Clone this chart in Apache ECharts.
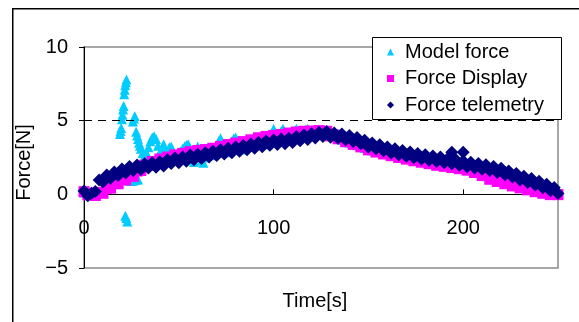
<!DOCTYPE html>
<html>
<head>
<meta charset="utf-8">
<script src="https://cdn.jsdelivr.net/npm/echarts@6/dist/echarts.min.js"></script>
<style>
  html, body { margin: 0; padding: 0; background: #fff; }
  #chart { width: 579px; height: 322px; }
</style>
</head>
<body>
<div id="chart"></div>
<script>
// Sample times [s] for the display and telemetry logs (2 s step)
const sampleTimes = [
  0,2,4,6,8,10,12,14,16,18,20,22,24,26,28,30,32,34,36,38,40,42,44,46,48,50,
  52,54,56,58,60,62,64,66,68,70,72,74,76,78,80,82,84,86,88,90,92,94,96,98,100,
  102,104,106,108,110,112,114,116,118,120,122,124,126,128,130,132,134,136,138,140,
  142,144,146,148,150,152,154,156,158,160,162,164,166,168,170,172,174,176,178,180,
  182,184,186,188,190,192,194,196,198,200,202,204,206,208,210,212,214,216,218,220,
  222,224,226,228,230,232,234,236,238,240,242,244,246,248,250
];

// Force Display [N]
const forceDisplay = [
  0.18,-0.03,0.08,-0.08,0.13,0.07,0.43,0.42,0.73,0.72,1.03,0.97,1.23,1.22,1.58,1.62,
  1.98,1.97,2.23,2.17,2.4,2.3,2.53,2.44,2.68,2.57,2.78,2.67,2.9,2.78,2.98,2.85,3.04,
  2.92,3.13,3.02,3.25,3.16,3.38,3.27,3.48,3.37,3.58,3.47,3.7,3.62,3.84,3.72,3.93,3.8,
  4.0,3.87,4.06,3.95,4.16,4.04,4.23,4.09,4.28,4.13,4.3,4.16,4.33,4.17,4.28,3.97,4.03,
  3.77,3.83,3.57,3.64,3.39,3.46,3.22,3.28,3.02,3.1,2.87,2.96,2.74,2.84,2.62,2.72,2.5,
  2.6,2.39,2.5,2.28,2.39,2.18,2.29,2.08,2.18,1.97,2.09,1.9,2.02,1.82,1.94,1.74,1.85,
  1.64,1.73,1.48,1.54,1.28,1.3,1.02,1.1,0.87,0.96,0.72,0.8,0.57,0.66,0.44,0.53,0.3,
  0.4,0.18,0.28,0.07,0.18,-0.02,0.09,-0.02
];

// Force telemetry [N]
const forceTelemetry = [
  0.22,-0.1,0.07,0.2,0.97,0.83,1.32,1.1,1.52,1.28,1.72,1.45,1.89,1.61,1.99,1.69,2.07,
  1.78,2.15,1.83,2.22,1.93,2.35,2.1,2.47,2.15,2.53,2.25,2.67,2.35,2.72,2.43,2.82,2.53,
  2.92,2.63,3.02,2.73,3.12,2.83,3.22,2.93,3.32,3.03,3.42,3.13,3.52,3.23,3.62,3.33,3.69,
  3.38,3.75,3.43,3.8,3.51,3.92,3.63,4.02,3.73,4.12,3.83,4.22,3.93,4.27,3.88,4.17,3.81,
  4.1,3.71,3.99,3.58,3.85,3.43,3.67,3.21,3.49,3.09,3.37,2.95,3.22,2.81,3.09,2.69,2.97,
  2.58,2.87,2.48,2.77,2.39,2.69,2.31,2.61,2.23,2.53,2.15,2.45,2.07,2.37,1.98,2.27,1.88,
  2.17,1.79,2.09,1.71,2.01,1.61,1.89,1.49,1.77,1.33,1.59,1.17,1.41,0.98,1.23,0.81,1.07,
  0.63,0.89,0.45,0.69,0.25,0.47,0.05
];

// Isolated telemetry samples above the main trace [t, N]
const telemetryOutliers = [[194, 2.85], [200, 2.85]];

// Model force [t, N]
const modelForce = [
  [0,0.12],[2,0.02],[4,0.05],[6,-0.02],[8,0.1],[10,0.15],[12,0.4],[14,0.48],[16,0.7],[18,0.78],
  [19.0,4.1],[19.3,4.3],[19.6,4.5],[20.0,5.1],[20.3,5.4],[20.6,5.75],[20.9,6.0],[21.2,6.8],
  [21.5,7.1],[21.8,7.4],[22.1,7.6],[22.4,7.8],
  [21.8,-1.45],[22.3,-1.6],[22.8,-1.85],
  [23.5,0.95],[24.5,0.9],[25.5,0.92],[26.5,0.95],[27.5,1.0],[28.5,1.0],
  [25.8,4.95],[26.3,5.15],[26.8,5.3],
  [27.5,4.25],[28,4.0],[28.5,3.75],[29,3.5],[29.5,3.3],
  [30,3.1],[31,2.8],[32,2.6],[33,2.8],[34,3.2],[35,3.6],[36,3.85],[37,3.95],[38,3.75],[39,3.3],
  [40,2.8],[41,3.1],[42,3.4],[43,3.0],[44,2.8],[45,3.2],[46,3.25],[47,2.9],[48,2.5],[49,2.35],
  [50,2.6],[51,2.9],[52,3.1],[53,3.25],[54,3.35],[55,3.4],[56,3.1],[57,2.45],[58,2.2],[59,2.6],
  [60,3.25],[61,2.85],[62,2.3],[63,2.15],[64,2.5],[65,3.15],[66,2.95],[67,2.7],[68,2.65],[69,2.9],
  [70,3.25],[71,3.6],[72,3.8],[73,3.5],[74,3.1],[75,2.85],[76,2.95],[77,3.2],[78,3.6],[79,3.8],
  [80,3.85],[81,3.6],[82,3.2],[83,3.05],[84,3.15],[85,3.3],[86,3.45],[87,3.6],[88,3.7],[89,3.75],
  [90,3.5],[91,3.35],[92,3.5],[93,3.75],[94,3.95],[95,3.8],[96,3.5],[97,3.4],[98,3.75],[99,4.15],
  [100,4.45],[101,4.2],[102,3.8],[103,3.95],[104,4.3],[105,4.45],[106,4.2],[107,3.9],[108,3.8],[109,3.9],
  [110,4.05],[111,4.3],[112,4.45],[113,4.3],[114,4.0],[115,3.9],[116,4.15],[117,4.4],[118,4.45],[119,4.3],
  [120,4.1],[121,4.05],[122,4.1],[123,4.2],[124,4.3],[125,4.3],[126,4.25],
  [128,4.15],[130,4.0],[132,3.9],[134,3.8],[136,3.7],[138,3.6],[140,3.5],[142,3.42],[144,3.33],
  [146,3.25],[148,3.15],[150,3.06],[152,2.98],[154,2.91],[156,2.85],[158,2.79],[160,2.73],
  [162,2.67],[164,2.61],[166,2.55],[168,2.5],[170,2.45],[172,2.4],[174,2.34],[176,2.29],
  [178,2.24],[180,2.19],[182,2.14],[184,2.09],[186,2.04],[188,2.0],[190,1.97],[192,1.93],
  [194,1.89],[196,1.85],[198,1.81],[200,1.76],[202,1.71],[204,1.64],[206,1.55],[208,1.45],
  [210,1.35],[212,1.22],[214,1.1],[216,1.02],[218,0.95],[220,0.88],[222,0.8],[224,0.72],
  [226,0.65],[228,0.58],[230,0.52],[232,0.45],[234,0.38],[236,0.32],[238,0.26],[240,0.2],
  [242,0.15],[244,0.1],[246,0.06],[248,0.03],[250,0.0]
];

const seriesNames = ['Model force', 'Force Display', 'Force telemetry'];
const referenceLevel = 5;

const pairs = (times, values) => times.map((t, i) => [t, values[i]]);

const FONT = '"Liberation Sans", Arial, sans-serif';
const FS = 20;
const chart = echarts.init(document.getElementById('chart'), null, { renderer: 'canvas' });

chart.setOption({
  animation: false,
  backgroundColor: '#fff',
  textStyle: { fontFamily: FONT, color: '#000' },
  grid: {
    left: 84, top: 47, width: 474, height: 221,
    outerBoundsMode: 'none', containLabel: false,
    show: true, borderColor: '#8a8a8a', borderWidth: 1.5, backgroundColor: '#fff'
  },
  xAxis: {
    type: 'value', min: 0, max: 250, interval: 100,
    axisLine: { onZero: true, lineStyle: { color: '#000', width: 1 } },
    axisTick: { inside: true, length: 5, lineStyle: { color: '#000' } },
    axisLabel: { margin: -50, fontSize: FS, color: '#000', fontFamily: FONT, showMaxLabel: false },
    splitLine: { show: false },
    name: 'Time[s]', nameLocation: 'middle', nameGap: 23,
    nameTextStyle: { fontSize: FS, color: '#000', fontFamily: FONT, padding: [0, 12, 0, 0] }
  },
  yAxis: {
    type: 'value', min: -5, max: 10, interval: 5,
    axisLine: { show: true, lineStyle: { color: '#000', width: 1 } },
    axisTick: { show: true, inside: false, length: 5, lineStyle: { color: '#000' } },
    axisLabel: {
      margin: 16, fontSize: FS, color: '#000', fontFamily: FONT,
      formatter: v => String(v).replace('-', '\u2212')
    },
    splitLine: { show: false },
    name: 'Force[N]', nameLocation: 'middle', nameGap: 46,
    nameTextStyle: { fontSize: FS, color: '#000', fontFamily: FONT, padding: [0, 10, 0, 0] }
  },
  legend: {
    orient: 'vertical', left: 387, top: 42, padding: 0, z: 20,
    itemWidth: 7, itemHeight: 7, itemGap: 6.5,
    textStyle: { fontSize: FS, lineHeight: 20, color: '#000', fontFamily: FONT, padding: [0, 0, 0, 6] },
    data: seriesNames
  },
  graphic: [
    {
      type: 'rect', z: 19,
      shape: { x: 372.5, y: 37.5, width: 189, height: 82 },
      style: { fill: '#fff', stroke: '#000', lineWidth: 1 }
    },
    {
      type: 'rect', z: 100, silent: true,
      shape: { x: 12.75, y: 8.75, width: 700, height: 500 },
      style: { fill: 'none', stroke: '#000', lineWidth: 1.5 }
    }
  ],
  series: [
    {
      name: seriesNames[0], type: 'scatter', symbol: 'triangle', symbolSize: 10,
      itemStyle: { color: '#00CCFF', opacity: 1 },
      data: modelForce,
      markLine: {
        silent: true, symbol: ['none', 'none'], label: { show: false },
        lineStyle: { color: '#000', type: [8, 6], width: 1 },
        data: [{ yAxis: referenceLevel }]
      }
    },
    {
      name: seriesNames[1], type: 'scatter', symbol: 'rect', symbolSize: 11,
      itemStyle: { color: '#FF00FF', opacity: 1 },
      data: pairs(sampleTimes, forceDisplay)
    },
    {
      name: seriesNames[2], type: 'scatter', symbol: 'diamond', symbolSize: 13,
      itemStyle: { color: '#000080', opacity: 1 },
      data: pairs(sampleTimes, forceTelemetry).concat(telemetryOutliers)
    }
  ]
});
</script>
</body>
</html>
